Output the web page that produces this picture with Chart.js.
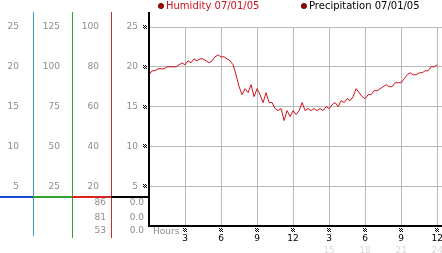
<!DOCTYPE html>
<html>
<head>
<meta charset="utf-8">
<script src="https://cdn.jsdelivr.net/npm/chart.js@4.4.1/dist/chart.umd.min.js"></script>
<style>
  html, body { margin: 0; padding: 0; background: #fff; }
  #wrap { width: 442px; height: 253px; position: relative; }
</style>
</head>
<body>
<div id="wrap"><canvas id="chart"></canvas></div>
<script>
// readings are every 15 minutes, 00:00 to 24:00
const sampleStep = 0.25;
const humidity = [
  76, 78, 78, 79, 79, 79, 80, 80, 80, 80, 81, 82, 81, 83, 82, 84,
  83, 84, 84, 83, 82, 83, 85, 86, 85, 85, 84, 83, 81, 76, 70, 66,
  69, 67, 71, 65, 69, 66, 62, 67, 62, 62, 59, 58, 59, 53, 58, 55,
  58, 56, 58, 62, 58, 59, 58, 59, 58, 59, 58, 60, 59, 61, 62, 60,
  63, 62, 64, 63, 65, 69, 67, 65, 64, 66, 66, 68, 68, 69, 70, 71,
  70, 70, 72, 72, 72, 74, 76, 77, 76, 76, 77, 77, 78, 78, 80, 80,
  81
];
const humidityLabel = 'Humidity 07/01/05';
const precipLabel = 'Precipitation 07/01/05';
// max / current / min
const humidityStats = ['86', '81', '53'];
const precipStats = ['0.0', '0.0', '0.0'];
const hourLabels = ['3', '6', '9', '12', '3', '6', '9', '12'];
const hourLabels24 = ['', '', '', '', '15', '18', '21', '24'];
const xTitle = 'Hours';

const humidityPoints = humidity.map((v, i) => ({ x: i * sampleStep, y: v }));

Chart.defaults.font.family = '"DejaVu Sans", sans-serif';
Chart.defaults.font.size = 9;

const grey = '#8c8c8c';
const gridGrey = '#b9b9b9';

function sideAxis(max, step, weight, width, pad) {
  return {
    type: 'linear',
    position: 'left',
    min: 0,
    max: max,
    weight: weight,
    grid: { display: false, drawTicks: false },
    border: { display: false },
    ticks: {
      stepSize: step,
      color: grey,
      padding: pad,
      callback: v => (v === 0 ? '' : v)
    },
    afterFit: s => { s.width = width; }
  };
}

// little checkered tick marker
function marker(ctx, cx, cy) {
  ctx.fillStyle = '#000';
  for (let i = 0; i < 4; i++) {
    for (let j = 0; j < 4; j++) {
      if ((i + j) % 2 === 0) ctx.fillRect(Math.round(cx) - 2 + i, Math.round(cy) - 2 + j, 1, 1);
    }
  }
}

const extras = {
  id: 'extras',
  afterDraw(chart) {
    const ctx = chart.ctx;
    const area = chart.chartArea;
    const s = chart.scales;
    const yMain = s.y;
    const baseY = 197;
    ctx.save();

    // column dividers
    const cols = [
      { x: s.yA.right, v: '#3b9bd6', h: '#1f48d0', from: s.yA.left, bottom: 236 },
      { x: s.yB.right, v: '#2ea42e', h: '#2ea42e', from: s.yB.left, bottom: 238 },
      { x: s.yHum.right, v: '#cc2a2a', h: '#dd2222', from: s.yHum.left, bottom: 238 }
    ];
    cols.forEach(c => {
      ctx.fillStyle = c.v;
      ctx.fillRect(Math.round(c.x), 12, 1, c.bottom - 12);
      ctx.fillStyle = c.h;
      ctx.fillRect(Math.round(c.from), baseY - 1, Math.round(c.x) - Math.round(c.from), 2);
    });
    ctx.fillStyle = '#000';
    ctx.fillRect(Math.round(yMain.left), baseY - 1, Math.round(area.left) - Math.round(yMain.left), 2);

    // black axes
    ctx.fillRect(Math.round(area.left) - 1, 12, 2, Math.round(area.bottom) - 11);
    ctx.fillRect(Math.round(area.left) - 1, Math.round(area.bottom) - 1, chart.width - area.left + 1, 2);

    // tick markers
    yMain.ticks.forEach(t => {
      if (t.value > 0) marker(ctx, area.left - 4, yMain.getPixelForValue(t.value));
    });
    s.x.ticks.forEach(t => {
      if (t.value > 0) marker(ctx, s.x.getPixelForValue(t.value), area.bottom + 4);
    });

    // stats under the baseline
    ctx.font = '9px "DejaVu Sans", sans-serif';
    ctx.fillStyle = grey;
    ctx.textAlign = 'right';
    ctx.textBaseline = 'middle';
    const rows = [203, 218, 231];
    humidityStats.forEach((t, i) => ctx.fillText(t, s.yHum.right - 5, rows[i]));
    precipStats.forEach((t, i) => ctx.fillText(t, yMain.right - 5, rows[i]));

    // axis title
    ctx.textAlign = 'left';
    ctx.fillText(xTitle, area.left + 4, 232);

    // legend
    ctx.font = '10px "DejaVu Sans", sans-serif';
    const legend = [
      { x: 161, label: humidityLabel, color: '#cc1020', dot: '#c00000' },
      { x: 304, label: precipLabel, color: '#000', dot: '#a00000' }
    ];
    legend.forEach(l => {
      ctx.beginPath();
      ctx.arc(l.x, 6, 2.6, 0, Math.PI * 2);
      ctx.fillStyle = l.dot;
      ctx.fill();
      ctx.strokeStyle = '#300';
      ctx.lineWidth = 0.8;
      ctx.stroke();
      ctx.fillStyle = l.color;
      ctx.fillText(l.label, l.x + 5, 6);
    });
    ctx.restore();
  }
};

new Chart(document.getElementById('chart'), {
  type: 'line',
  data: {
    datasets: [{
      label: humidityLabel,
      data: humidityPoints,
      yAxisID: 'yHum',
      xAxisID: 'x',
      borderColor: '#d0101c',
      borderWidth: 1,
      pointRadius: 0,
      tension: 0,
      fill: false
    }]
  },
  options: {
    responsive: true,
    maintainAspectRatio: false,
    animation: false,
    layout: { padding: { top: 27, left: 0, right: 0, bottom: 0 } },
    plugins: { legend: { display: false }, tooltip: { enabled: false } },
    scales: {
      yA: sideAxis(25, 5, 4, 33, 14),
      yB: sideAxis(125, 25, 3, 39, 12),
      yHum: sideAxis(100, 20, 2, 39, 12),
      y: {
        type: 'linear',
        position: 'left',
        min: 0,
        max: 25,
        weight: 1,
        grid: { color: gridGrey, drawTicks: false },
        border: { display: false },
        ticks: { stepSize: 5, color: grey, padding: 11, callback: v => (v === 0 ? '' : v) },
        afterFit: s => { s.width = 38; }
      },
      x: {
        type: 'linear',
        position: 'bottom',
        min: 0,
        max: 24.4,
        weight: 1,
        grid: { color: gridGrey, drawTicks: false },
        border: { display: false },
        ticks: {
          stepSize: 3,
          includeBounds: false,
          autoSkip: false,
          maxRotation: 0,
          color: '#000',
          padding: 7,
          callback: v => (v > 0 ? hourLabels[v / 3 - 1] : '')
        },
        afterFit: s => { s.height = 19; s.paddingLeft = 0; s.paddingRight = 0; }
      },
      x2: {
        type: 'linear',
        position: 'bottom',
        min: 0,
        max: 24.4,
        weight: 2,
        grid: { display: false, drawTicks: false },
        border: { display: false },
        ticks: {
          stepSize: 3,
          includeBounds: false,
          autoSkip: false,
          maxRotation: 0,
          color: '#dadada',
          padding: 0,
          callback: v => (v > 0 ? hourLabels24[v / 3 - 1] : '')
        },
        afterFit: s => { s.height = 8; s.paddingLeft = 0; s.paddingRight = 0; }
      }
    }
  },
  plugins: [extras]
});
</script>
</body>
</html>
